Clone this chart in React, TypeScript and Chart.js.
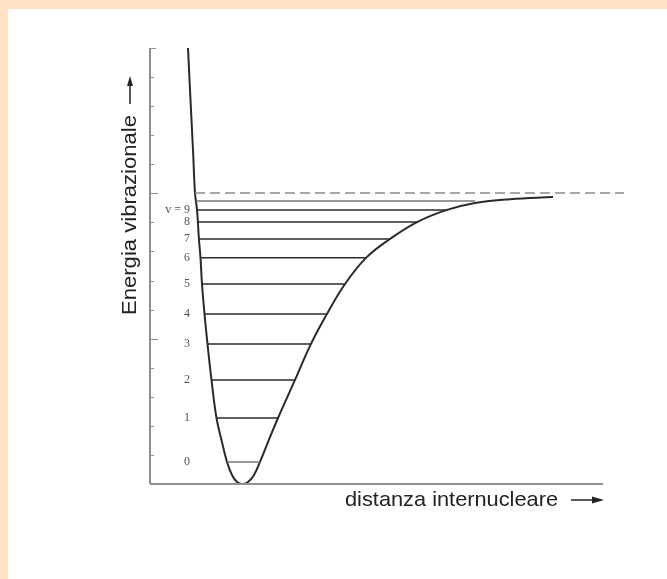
import React, { useEffect, useRef } from "react";
import { Chart, registerables } from "chart.js";

Chart.register(...registerables);

// Potential energy curve (distance units, energy units)
const curveX = [3.8, 4.05, 4.3, 4.5, 4.7, 4.9, 5.05, 5.2, 5.45, 5.75, 6.15, 6.65, 7.2, 7.7, 8.2, 8.7, 9.2, 9.8, 10.4, 11.0, 11.8, 12.8, 14.5, 16.1, 17.7, 19.5, 21.6, 24.0, 26.7, 29.7, 32.5, 36.0, 40.3];
const curveE = [15.0, 13.21, 11.49, 10.01, 9.43, 8.4, 7.78, 6.88, 5.85, 4.82, 3.58, 2.27, 1.44, 0.76, 0.31, 0.07, 0.0, 0.07, 0.31, 0.76, 1.44, 2.27, 3.58, 4.82, 5.85, 6.88, 7.78, 8.43, 9.01, 9.43, 9.67, 9.8, 9.87];

// Vibrational levels v = 0..10
const levelE = [0.76, 2.27, 3.58, 4.82, 5.85, 6.88, 7.78, 8.43, 9.01, 9.43, 9.74];
const levelLeft = [7.7, 6.65, 6.15, 5.75, 5.45, 5.2, 5.05, 4.9, 4.75, 4.7, 4.6];
const levelRight = [11.0, 12.8, 14.5, 16.1, 17.7, 19.5, 21.6, 24.0, 26.7, 29.7, 32.5];
const levelLabels = ["0", "1", "2", "3", "4", "5", "6", "7", "8", "v = 9"];

// Dissociation limit
const dissocE = 10.01;
const dissocX = [4.5, 47.4];

// Axes
const yTicks = [1, 2, 3, 4, 5, 6, 7, 8, 9, 10, 11, 12, 13, 14, 15];
const yMajorTicks = [5, 10];
const xAxisEnd = 45.3;
const yTitle = "Energia vibrazionale";
const xTitle = "distanza internucleare";

function fitText(ctx: any, text: string, x: number, y: number, width: number) {
  const w = ctx.measureText(text).width;
  ctx.save();
  ctx.translate(x, y);
  ctx.scale(width / w, 1);
  ctx.fillText(text, 0, 0);
  ctx.restore();
}

const overlayPlugin = {
  id: "overlay",
  afterDraw(chart: any) {
    const ctx = chart.ctx;
    const xs = chart.scales.x;
    const ys = chart.scales.y;
    const x0 = xs.getPixelForValue(0);
    const y0 = ys.getPixelForValue(0);
    ctx.save();
    // y axis
    ctx.strokeStyle = "#909090";
    ctx.lineWidth = 2;
    ctx.beginPath();
    ctx.moveTo(x0, y0);
    ctx.lineTo(x0, ys.getPixelForValue(15));
    ctx.stroke();
    // x axis
    ctx.beginPath();
    ctx.moveTo(x0, y0);
    ctx.lineTo(xs.getPixelForValue(xAxisEnd), y0);
    ctx.stroke();
    // y ticks (inside)
    ctx.lineWidth = 1;
    yTicks.forEach((t) => {
      const py = Math.round(ys.getPixelForValue(t)) + 0.5;
      const len = yMajorTicks.includes(t) ? 8 : t === 15 ? 6 : 4;
      ctx.beginPath();
      ctx.moveTo(x0 - 1, py);
      ctx.lineTo(x0 + len, py);
      ctx.stroke();
    });
    // level labels
    ctx.fillStyle = "#555";
    ctx.font = "12px 'Liberation Serif', serif";
    ctx.textAlign = "right";
    ctx.textBaseline = "middle";
    levelLabels.forEach((lab, i) => {
      ctx.fillText(lab, x0 + 40, ys.getPixelForValue(levelE[i]));
    });
    // y title
    ctx.fillStyle = "#222";
    ctx.font = "21px 'Liberation Sans', Arial, sans-serif";
    ctx.textAlign = "left";
    ctx.textBaseline = "middle";
    ctx.save();
    ctx.translate(130, 315);
    ctx.rotate(-Math.PI / 2);
    fitText(ctx, yTitle, 0, 0, 200);
    ctx.restore();
    // y arrow
    const ax = 130;
    ctx.strokeStyle = "#222";
    ctx.lineWidth = 1.5;
    ctx.beginPath();
    ctx.moveTo(ax, 104);
    ctx.lineTo(ax, 82);
    ctx.stroke();
    ctx.beginPath();
    ctx.moveTo(ax, 76);
    ctx.lineTo(ax - 3, 86);
    ctx.lineTo(ax + 3, 86);
    ctx.closePath();
    ctx.fill();
    // x title
    ctx.font = "21px 'Liberation Sans', Arial, sans-serif";
    ctx.textAlign = "left";
    ctx.textBaseline = "middle";
    const ay = y0 + 16;
    fitText(ctx, xTitle, 345, ay, 213);
    // x arrow
    ctx.beginPath();
    ctx.moveTo(571, ay);
    ctx.lineTo(596, ay);
    ctx.stroke();
    ctx.beginPath();
    ctx.moveTo(604, ay);
    ctx.lineTo(592, ay - 3.5);
    ctx.lineTo(592, ay + 3.5);
    ctx.closePath();
    ctx.fill();
    ctx.restore();
  },
};

export default function App() {
  const ref = useRef<HTMLCanvasElement | null>(null);
  useEffect(() => {
    if (!ref.current) return;
    const curve = curveX.map((x, i) => ({ x, y: curveE[i] }));
    const levelSets = levelE.map((e, i) => ({
      data: [
        { x: levelLeft[i], y: e },
        { x: levelRight[i], y: e },
      ],
      borderColor: i === 0 || i === 10 ? "#777" : "#2a2a2a",
      borderWidth: 1.5,
      pointRadius: 0,
      showLine: true,
      tension: 0,
    }));
    const chart = new Chart(ref.current, {
      type: "scatter",
      data: {
        datasets: [
          {
            data: [
              { x: dissocX[0], y: dissocE },
              { x: dissocX[1], y: dissocE },
            ],
            borderColor: "#8a8a8a",
            borderWidth: 1.5,
            borderDash: [10, 5],
            pointRadius: 0,
            showLine: true,
          },
          ...levelSets,
          {
            data: curve,
            borderColor: "#2a2a2a",
            borderWidth: 2,
            pointRadius: 0,
            showLine: true,
            tension: 0.4,
          },
        ],
      },
      options: {
        animation: false,
        responsive: false,
        layout: { padding: { left: 150, top: 48, right: 43, bottom: 95 } },
        scales: {
          x: { type: "linear", min: 0, max: 47.4, display: false },
          y: { type: "linear", min: 0, max: 15, display: false },
        },
        plugins: { legend: { display: false }, tooltip: { enabled: false } },
      } as any,
      plugins: [overlayPlugin],
    } as any);
    return () => chart.destroy();
  }, []);
  return (
    <div style={{ position: "fixed", left: 0, top: 0, width: 667, height: 579, background: "#FFE1C4", overflow: "hidden" }}>
      <div style={{ position: "absolute", left: 8, top: 9, right: 0, bottom: 0, background: "#ffffff" }} />
      <canvas ref={ref} width={667} height={579} style={{ position: "absolute", left: 0, top: 0 }} />
    </div>
  );
}
